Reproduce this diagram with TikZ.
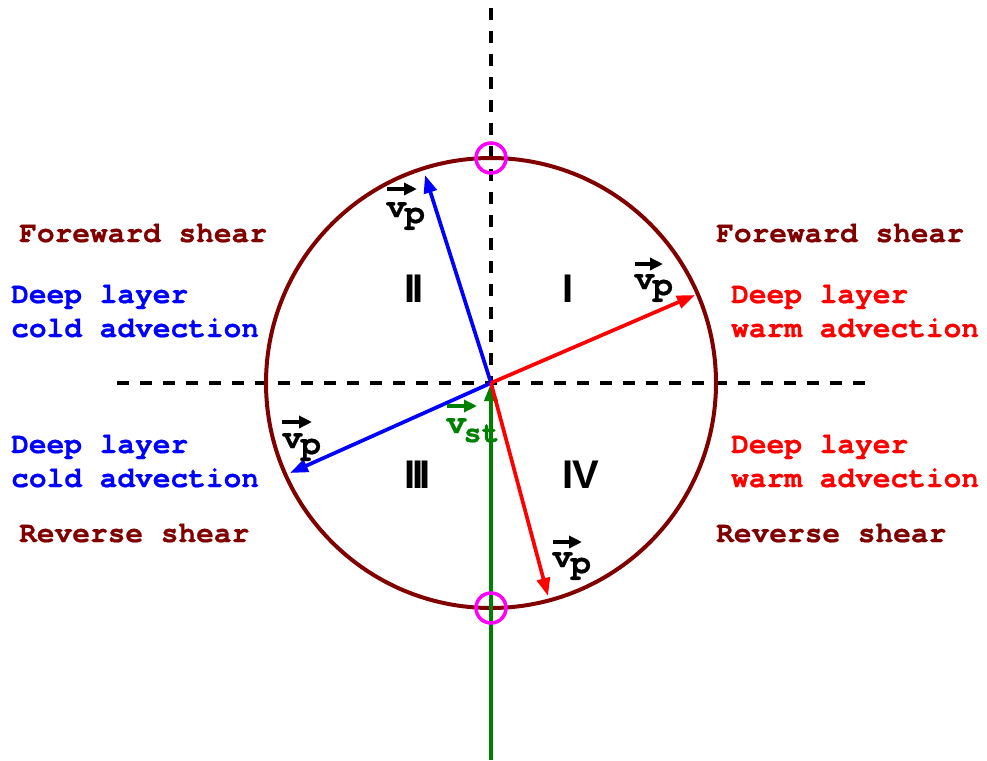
\documentclass[tikz,border=0pt]{standalone}
\usepackage{fontspec}
\setmonofont{texgyrecursor}[Extension=.otf, UprightFont=*-regular, BoldFont=*-bold, BoldFeatures={FakeBold=0.6}]
\setsansfont{Liberation Sans}
\usetikzlibrary{arrows.meta}
\definecolor{ShearRed}{HTML}{800000}
\definecolor{StormGreen}{HTML}{008000}
\definecolor{RingMagenta}{HTML}{FF00FF}

\begin{document}
\begin{tikzpicture}[x=1pt, y=-1pt, >={Triangle[length=18pt, width=13pt]},
    vecline/.style={->, line width=3.7pt},
    vecbar/.style={-{Triangle[length=13pt, width=12pt]}, line width=4pt, black},
    veclabel/.style={anchor=base west, inner sep=0pt, font=\ttfamily\bfseries\fontsize{34}{38}\selectfont},
    sidetext/.style={anchor=base west, inner sep=0pt, align=left, font=\ttfamily\bfseries\fontsize{29.5}{34}\selectfont},
    quadrant/.style={anchor=base west, inner sep=0pt, font=\sffamily\bfseries\fontsize{40}{40}\selectfont}]
    % Page size
    \useasboundingbox (0,0) rectangle (987,760);

    % Coordinates
    \coordinate (O) at (491,383);
    \coordinate (N) at (491,158);
    \coordinate (S) at (491,608);
    \coordinate (Bottom) at (491,760);
    \coordinate (P1) at (695,295);
    \coordinate (P2) at (425,175);
    \coordinate (P3) at (290,473);
    \coordinate (P4) at (548,596);

    % Axes
    \draw[line width=4pt, dash pattern=on 12pt off 11pt] (117,383) -- (868,383);
    \draw[line width=4pt, dash pattern=on 12pt off 11pt] (491,8) -- (O);

    % Hodograph circle
    \draw[line width=4pt, ShearRed] (O) circle (225);

    % Storm motion
    \draw[vecline, StormGreen] (Bottom) -- (O);

    % Shear vectors
    \draw[vecline, blue] (O) -- (P2);
    \draw[vecline, blue] (O) -- (P3);
    \draw[vecline, red] (O) -- (P1);
    \draw[vecline, red] (O) -- (P4);

    % Crossing points
    \draw[line width=3.5pt, RingMagenta] (N) circle (15);
    \draw[line width=3.5pt, RingMagenta] (S) circle (15);

    % Vector labels
    \node[veclabel] (vp2) at (386,217) {v\kern-2pt\raisebox{-6pt}{p}};
    \draw[vecbar] ([shift={(1,-28)}]vp2.base west) -- ++(30,0);
    \node[veclabel] (vp1) at (634,289) {v\kern-2pt\raisebox{-6pt}{p}};
    \draw[vecbar] ([shift={(1,-25)}]vp1.base west) -- ++(28,0);
    \node[veclabel] (vp3) at (282,448) {v\kern-2pt\raisebox{-6pt}{p}};
    \draw[vecbar] ([shift={(0,-26)}]vp3.base west) -- ++(30,0);
    \node[veclabel] (vp4) at (552,567) {v\kern-2pt\raisebox{-6pt}{p}};
    \draw[vecbar] ([shift={(1,-25)}]vp4.base west) -- ++(29,0);
    \node[veclabel, text=StormGreen] (vst) at (446,433) {v\kern-3pt\raisebox{-9pt}{\fontsize{30}{30}\selectfont st}};
    \draw[vecbar, StormGreen] ([shift={(1,-27)}]vst.base west) -- ++(30,0);

    % Quadrants
    \node[quadrant] (q1) at (562.5,302) {I};
    \node[quadrant] (q2) at (404.5,302) {I\kern-3.5pt I};
    \node[quadrant] (q3) at (404.5,488) {I\kern-3.5pt I\kern-3.5pt I};
    \node[quadrant] (q4) at (562.5,488) {I\kern-1pt V};

    % Left side (two-line nodes sit on their last line)
    \node[sidetext, text=ShearRed] (fwdL) at (19,242) {Foreward shear};
    \node[sidetext, text=blue] (coldU) at (11,337) {Deep layer\\cold advection};
    \node[sidetext, text=blue] (coldL) at (11,487) {Deep layer\\cold advection};
    \node[sidetext, text=ShearRed] (revL) at (19,542) {Reverse shear};

    % Right side
    \node[sidetext, text=ShearRed] (fwdR) at (716,242) {Foreward shear};
    \node[sidetext, text=red] (warmU) at (731,337) {Deep layer\\warm advection};
    \node[sidetext, text=red] (warmL) at (731,487) {Deep layer\\warm advection};
    \node[sidetext, text=ShearRed] (revR) at (716,542) {Reverse shear};
\end{tikzpicture}
\end{document}
